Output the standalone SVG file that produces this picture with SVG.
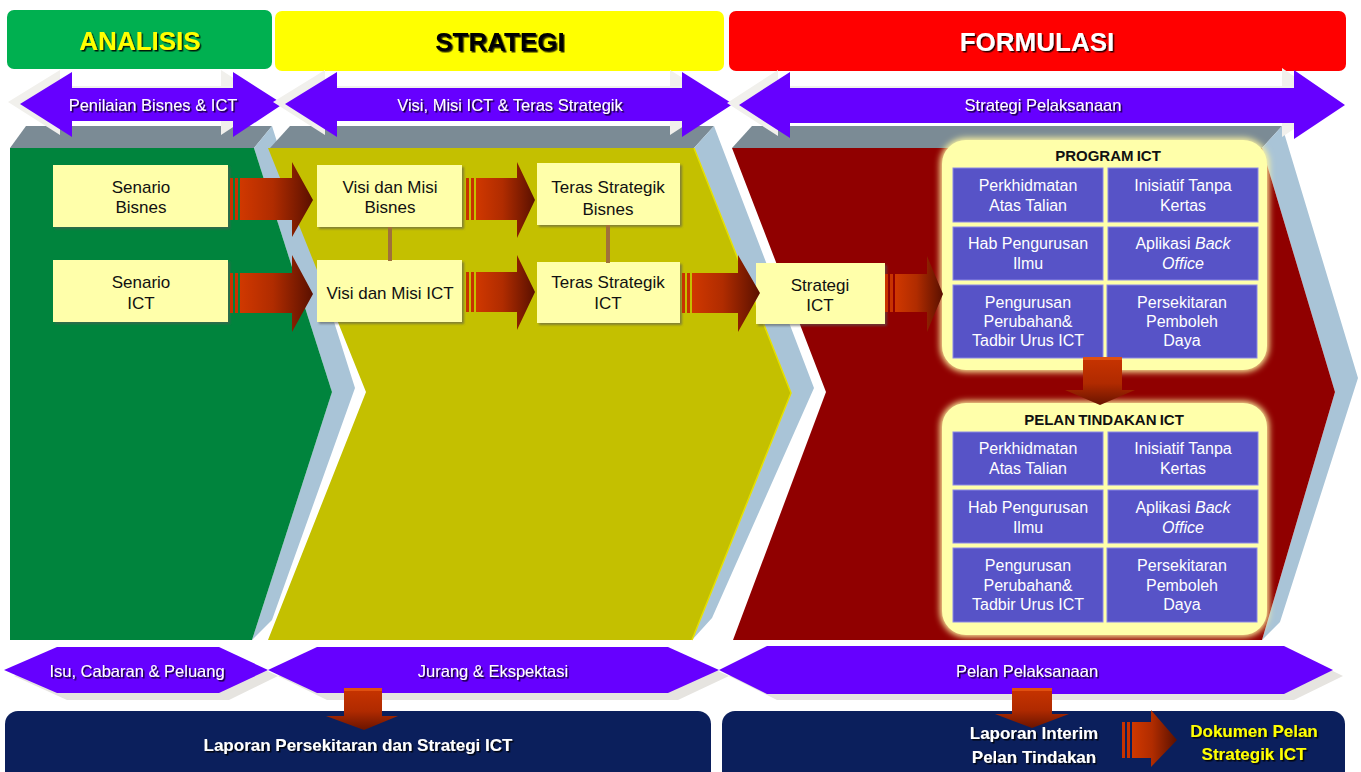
<svg xmlns="http://www.w3.org/2000/svg" width="1361" height="772" viewBox="0 0 1361 772">
<defs>
<style>
.hdr{font-family:"Liberation Sans",Arial,sans-serif;font-weight:bold;font-size:26px;text-anchor:middle}
.alab{font-family:"Liberation Sans",Arial,sans-serif;font-size:16.5px;fill:#fff;text-anchor:middle}
.ybox{fill:#FFFFAA}
.ytxt{font-family:"Liberation Sans",Arial,sans-serif;font-size:17px;fill:#111;text-anchor:middle}
.cell{fill:#5753C7;stroke:#8C89E6;stroke-width:1}
.ctxt{font-family:"Liberation Sans",Arial,sans-serif;font-size:16px;fill:#fff;text-anchor:middle}
.ttl{font-family:"Liberation Sans",Arial,sans-serif;font-size:15px;font-weight:bold;fill:#111;text-anchor:middle;word-spacing:-1px}
.btxt{font-family:"Liberation Sans",Arial,sans-serif;font-size:17px;font-weight:bold;text-anchor:middle}
.purple{fill:#6600FF}
.top{fill:#7B8B95}
.side{fill:#A9C4D7}
.navy{fill:#0B1F5C}
.shd{fill:#F1F0EC}
.conn{stroke:#A0703A;stroke-width:4}
</style>
<filter id="ts" x="-10%" y="-30%" width="130%" height="170%">
<feDropShadow dx="1.5" dy="1.5" stdDeviation="0.6" flood-color="#000" flood-opacity="0.85"/>
</filter>
<filter id="bs" x="-10%" y="-10%" width="130%" height="130%">
<feDropShadow dx="2" dy="2" stdDeviation="1" flood-color="#555" flood-opacity="0.6"/>
</filter>
<filter id="glow" x="-10%" y="-10%" width="120%" height="120%">
<feGaussianBlur stdDeviation="3"/>
</filter>
<linearGradient id="gr" x1="0" y1="0" x2="1" y2="0">
<stop offset="0" stop-color="#D03800"/>
<stop offset="0.45" stop-color="#B02C00"/>
<stop offset="1" stop-color="#5A1000"/>
</linearGradient>
<linearGradient id="gd" x1="0" y1="0" x2="0" y2="1">
<stop offset="0" stop-color="#C83400"/>
<stop offset="0.55" stop-color="#B02A00"/>
<stop offset="1" stop-color="#6A1400"/>
</linearGradient>
</defs>
<rect width="1361" height="772" fill="#fff"/>

<!-- headers -->
<g id="hdr-analisis">
<rect x="7" y="10" width="265" height="59" rx="7" fill="#00B050"/>
<text class="hdr" x="140" y="50" fill="#FFFF00" filter="url(#ts)">ANALISIS</text>
</g>
<g id="hdr-strategi">
<rect x="275" y="11" width="449" height="60" rx="7" fill="#FFFF00"/>
<text class="hdr" x="500" y="51" fill="#000" filter="url(#ts)">STRATEGI</text>
</g>
<g id="hdr-formulasi">
<rect x="729" y="11" width="617" height="60" rx="7" fill="#FF0000"/>
<text class="hdr" x="1037" y="51" fill="#fff" filter="url(#ts)">FORMULASI</text>
</g>

<!-- chevron panels -->
<g id="panel-analisis">
<path class="top" d="M10,148 L26,126 L272,126 L254,148 Z"/>
<path class="side" d="M254,148 L272,126 L355,388 L272,620 L252,640 L332,392 Z"/>
<path fill="#00843D" d="M10,148 L254,148 L332,392 L252,640 L10,640 Z"/>
</g>
<g id="panel-strategi">
<path class="top" d="M270,148 L290,126 L714,126 L694,148 Z"/>
<path class="side" d="M694,148 L714,126 L814,388 L712,618 L692,640 L791,393 Z"/>
<path fill="#C4C000" d="M268,148 L694,148 L791,393 L692,640 L268,640 L366,392 Z"/>
<path fill="none" stroke="#E6E000" stroke-width="1.5" d="M694,148 L791,393 L692,640"/>
</g>
<g id="panel-formulasi">
<path class="top" d="M732,148 L752,126 L1282,126 L1262,148 Z"/>
<path class="side" d="M1262,148 L1282,126 L1358,378 L1280,622 L1262,640 L1335,392 Z"/>
<path fill="#900000" d="M732,148 L1262,148 L1335,392 L1262,640 L733,640 L826,392 Z"/>
</g>

<!-- top double arrows -->
<g id="arrow-penilaian">
<path class="shd" d="M8,102 L60,70 L60,86 L221,86 L221,70 L271,102 L221,135 L221,119 L60,119 L60,135 Z"/>
<path class="purple" d="M20,104 L72,72 L72,88 L233,88 L233,72 L283,104 L233,137 L233,121 L72,121 L72,137 Z"/>
<text class="alab" x="153" y="111" filter="url(#ts)">Penilaian Bisnes &amp; ICT</text>
</g>
<g id="arrow-visi">
<path class="shd" d="M273,102 L325,70 L325,86 L670,86 L670,70 L721,102 L670,135 L670,119 L325,119 L325,135 Z"/>
<path class="purple" d="M285,104 L337,72 L337,88 L682,88 L682,72 L733,104 L682,137 L682,121 L337,121 L337,137 Z"/>
<text class="alab" x="510" y="111" filter="url(#ts)">Visi, Misi ICT &amp; Teras Strategik</text>
</g>
<g id="arrow-pelaksanaan">
<path class="shd" d="M727,103 L778,70 L778,86 L1282,86 L1282,68 L1333,103 L1282,137 L1282,121 L778,121 L778,136 Z"/>
<path class="purple" d="M739,105 L790,72 L790,88 L1294,88 L1294,70 L1345,105 L1294,139 L1294,123 L790,123 L790,138 Z"/>
<text class="alab" x="1043" y="111" filter="url(#ts)">Strategi Pelaksanaan</text>
</g>

<!-- yellow nodes -->
<g id="n-senario-bisnes">
<rect class="ybox" x="53" y="165" width="175" height="62" filter="url(#bs)"/>
<text class="ytxt" x="141" y="193">Senario</text><text class="ytxt" x="141" y="213">Bisnes</text>
</g>
<g id="n-senario-ict">
<rect class="ybox" x="53" y="260" width="175" height="62" filter="url(#bs)"/>
<text class="ytxt" x="141" y="288">Senario</text><text class="ytxt" x="141" y="309">ICT</text>
</g>
<g id="n-visi-bisnes">
<rect class="ybox" x="317" y="165" width="145" height="62" filter="url(#bs)"/>
<text class="ytxt" x="390" y="193">Visi dan Misi</text><text class="ytxt" x="390" y="213">Bisnes</text>
</g>
<g id="n-visi-ict">
<rect class="ybox" x="317" y="260" width="145" height="62" filter="url(#bs)"/>
<text class="ytxt" x="390" y="299">Visi dan Misi ICT</text>
</g>
<g id="n-teras-bisnes">
<rect class="ybox" x="537" y="163" width="143" height="62" filter="url(#bs)"/>
<text class="ytxt" x="608" y="193">Teras Strategik</text><text class="ytxt" x="608" y="215">Bisnes</text>
</g>
<g id="n-teras-ict">
<rect class="ybox" x="537" y="262" width="143" height="61" filter="url(#bs)"/>
<text class="ytxt" x="608" y="288">Teras Strategik</text><text class="ytxt" x="608" y="309">ICT</text>
</g>
<g id="n-strategi-ict">
<rect class="ybox" x="756" y="263" width="129" height="61" filter="url(#bs)"/>
<text class="ytxt" x="820" y="291">Strategi</text><text class="ytxt" x="820" y="311">ICT</text>
</g>

<!-- PROGRAM ICT -->
<g id="n-program-ict">
<rect x="940" y="138" width="329" height="234" rx="26" fill="#FFF6A0" filter="url(#glow)"/>
<rect x="942" y="140" width="325" height="230" rx="24" fill="#FFFFAA"/>
<text class="ttl" x="1108" y="161">PROGRAM ICT</text>
<rect class="cell" x="953" y="168" width="150" height="54"/>
<rect class="cell" x="1108" y="168" width="150" height="54"/>
<rect class="cell" x="953" y="227" width="150" height="53"/>
<rect class="cell" x="1108" y="227" width="150" height="53"/>
<rect class="cell" x="953" y="285" width="150" height="73"/>
<rect class="cell" x="1107" y="285" width="150" height="73"/>
<text class="ctxt" x="1028" y="191">Perkhidmatan</text><text class="ctxt" x="1028" y="211">Atas Talian</text>
<text class="ctxt" x="1183" y="191">Inisiatif Tanpa</text><text class="ctxt" x="1183" y="211">Kertas</text>
<text class="ctxt" x="1028" y="249">Hab Pengurusan</text><text class="ctxt" x="1028" y="269">Ilmu</text>
<text class="ctxt" x="1183" y="249">Aplikasi <tspan font-style="italic">Back</tspan></text><text class="ctxt" x="1183" y="269" font-style="italic">Office</text>
<text class="ctxt" x="1028" y="308">Pengurusan</text><text class="ctxt" x="1028" y="327">Perubahan&amp;</text><text class="ctxt" x="1028" y="346">Tadbir Urus ICT</text>
<text class="ctxt" x="1182" y="308">Persekitaran</text><text class="ctxt" x="1182" y="327">Pemboleh</text><text class="ctxt" x="1182" y="346">Daya</text>
</g>

<!-- PELAN TINDAKAN ICT -->
<g id="n-pelan-tindakan">
<rect x="940" y="401" width="329" height="236" rx="26" fill="#FFF6A0" filter="url(#glow)"/>
<rect x="942" y="403" width="325" height="232" rx="24" fill="#FFFFAA"/>
<text class="ttl" x="1104" y="425">PELAN TINDAKAN ICT</text>
<rect class="cell" x="953" y="432" width="150" height="53"/>
<rect class="cell" x="1108" y="432" width="150" height="53"/>
<rect class="cell" x="953" y="490" width="150" height="53"/>
<rect class="cell" x="1108" y="490" width="150" height="53"/>
<rect class="cell" x="953" y="548" width="150" height="74"/>
<rect class="cell" x="1107" y="548" width="150" height="74"/>
<text class="ctxt" x="1028" y="454">Perkhidmatan</text><text class="ctxt" x="1028" y="474">Atas Talian</text>
<text class="ctxt" x="1183" y="454">Inisiatif Tanpa</text><text class="ctxt" x="1183" y="474">Kertas</text>
<text class="ctxt" x="1028" y="513">Hab Pengurusan</text><text class="ctxt" x="1028" y="533">Ilmu</text>
<text class="ctxt" x="1183" y="513">Aplikasi <tspan font-style="italic">Back</tspan></text><text class="ctxt" x="1183" y="533" font-style="italic">Office</text>
<text class="ctxt" x="1028" y="571">Pengurusan</text><text class="ctxt" x="1028" y="591">Perubahan&amp;</text><text class="ctxt" x="1028" y="610">Tadbir Urus ICT</text>
<text class="ctxt" x="1182" y="571">Persekitaran</text><text class="ctxt" x="1182" y="591">Pemboleh</text><text class="ctxt" x="1182" y="610">Daya</text>
</g>

<!-- connectors -->
<g id="connectors">
<line class="conn" x1="390" y1="227" x2="390" y2="261"/>
<line class="conn" x1="608" y1="225" x2="608" y2="263"/>
<g id="a1">
<rect x="230" y="178" width="3" height="42" fill="#C83200"/><rect x="235" y="178" width="3" height="42" fill="#C83200"/>
<path fill="url(#gr)" d="M240,178 L292,178 L292,162 L313,200 L292,237 L292,220 L240,220 Z"/>
</g>
<g id="a2">
<rect x="230" y="273" width="3" height="40" fill="#C83200"/><rect x="235" y="273" width="3" height="40" fill="#C83200"/>
<path fill="url(#gr)" d="M240,273 L292,273 L292,255 L313,294 L292,332 L292,313 L240,313 Z"/>
</g>
<g id="a3">
<rect x="466" y="178" width="3" height="42" fill="#C83200"/><rect x="471" y="178" width="3" height="42" fill="#C83200"/>
<path fill="url(#gr)" d="M476,178 L517,178 L517,162 L535,200 L517,238 L517,220 L476,220 Z"/>
</g>
<g id="a4">
<rect x="466" y="272" width="3" height="40" fill="#C83200"/><rect x="471" y="272" width="3" height="40" fill="#C83200"/>
<path fill="url(#gr)" d="M476,272 L517,272 L517,255 L535,292 L517,330 L517,312 L476,312 Z"/>
</g>
<g id="a5">
<rect x="682" y="273" width="3" height="40" fill="#C83200"/><rect x="687" y="273" width="3" height="40" fill="#C83200"/>
<path fill="url(#gr)" d="M692,273 L738,273 L738,255 L760,293 L738,332 L738,313 L692,313 Z"/>
</g>
<g id="a6">
<rect x="885" y="274" width="3" height="38" fill="#C83200"/><rect x="890" y="274" width="3" height="38" fill="#C83200"/>
<path fill="url(#gr)" d="M895,274 L927,274 L927,256 L943,294 L927,332 L927,312 L895,312 Z"/>
</g>
<g id="a7">
<path fill="url(#gd)" d="M1083,357 L1122,357 L1122,390 L1135,390 L1100,405 L1065,390 L1083,390 Z"/>
<rect x="1083" y="357" width="39" height="3" fill="#E05010"/>
</g>
</g>

<!-- bottom hexagon arrows -->
<g id="hex-isu">
<path fill="#E6E4E0" d="M14,676 L67,653 L229,653 L278,676 L229,700 L67,700 Z"/>
<path class="purple" d="M4,670 L57,647 L219,647 L268,670 L219,693 L57,693 Z"/>
<text class="alab" x="137" y="677" filter="url(#ts)">Isu, Cabaran &amp; Peluang</text>
</g>
<g id="hex-jurang">
<path fill="#E6E4E0" d="M278,676 L327,653 L678,653 L729,676 L678,700 L327,700 Z"/>
<path class="purple" d="M268,670 L317,647 L668,647 L719,670 L668,693 L317,693 Z"/>
<text class="alab" x="493" y="677" filter="url(#ts)">Jurang &amp; Ekspektasi</text>
</g>
<g id="hex-pelan">
<path fill="#E6E4E0" d="M729,676 L777,652 L1294,652 L1343,676 L1294,700 L777,700 Z"/>
<path class="purple" d="M719,670 L767,646 L1284,646 L1333,670 L1284,694 L767,694 Z"/>
<text class="alab" x="1027" y="677" filter="url(#ts)">Pelan Pelaksanaan</text>
</g>

<!-- bottom bars -->
<g id="bar-laporan">
<rect class="navy" x="5" y="711" width="706" height="75" rx="13"/>
<text class="btxt" x="358" y="751" fill="#fff" filter="url(#ts)">Laporan Persekitaran dan Strategi ICT</text>
</g>
<g id="bar-dokumen">
<rect class="navy" x="722" y="711" width="623" height="75" rx="13"/>
<text class="btxt" x="1034" y="739" fill="#fff" filter="url(#ts)">Laporan Interim</text>
<text class="btxt" x="1034" y="763" fill="#fff" filter="url(#ts)">Pelan Tindakan</text>
<text class="btxt" x="1254" y="737" fill="#FFFF00" filter="url(#ts)">Dokumen Pelan</text>
<text class="btxt" x="1254" y="760" fill="#FFFF00" filter="url(#ts)">Strategik ICT</text>
</g>

<g id="down-arrows">
<path fill="url(#gd)" d="M344,688 L382,688 L382,716 L398,716 L364,730 L326,716 L344,716 Z"/>
<rect x="344" y="688" width="38" height="3" fill="#E05010"/>
<path fill="url(#gd)" d="M1012,688 L1052,688 L1052,714 L1069,714 L1032,728 L995,714 L1012,714 Z"/>
<rect x="1012" y="688" width="40" height="3" fill="#E05010"/>
<rect x="1122" y="722" width="3" height="36" fill="#C83200"/><rect x="1127" y="722" width="3" height="36" fill="#C83200"/>
<path fill="url(#gr)" d="M1132,722 L1151,722 L1151,710 L1177,740 L1151,767 L1151,758 L1132,758 Z"/>
</g>
</svg>
